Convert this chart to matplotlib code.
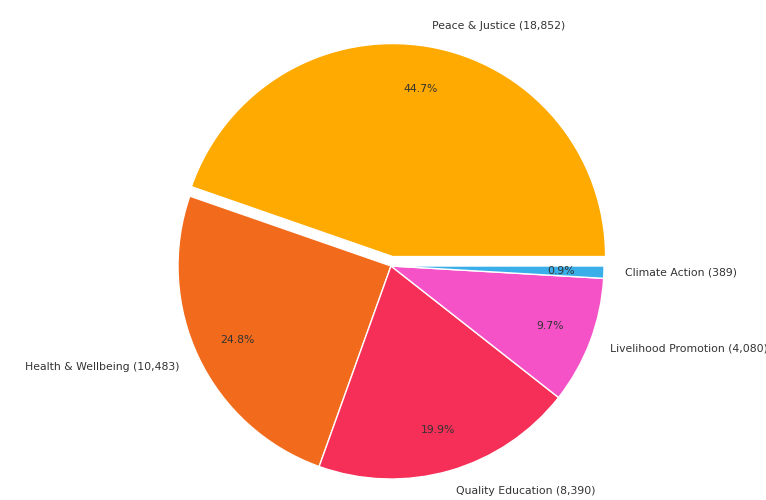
import matplotlib.pyplot as plt

# 数据
labels = ["Peace & Justice (18,852)", "Health & Wellbeing (10,483)",
          "Quality Education (8,390)", "Livelihood Promotion (4,080)",
          "Climate Action (389)"]
values = [18852, 10483, 8390, 4080, 389]
colors = ["#FFAA00", "#F26B1D", "#F52F57", "#F552C8", "#3AAEE8"]
explode = [0.045, 0, 0, 0, 0]

fig = plt.figure(figsize=(7.66, 5), dpi=100)
ax = fig.add_axes([0, 0, 1, 1])

ax.pie(values, labels=labels, colors=colors, explode=explode,
       autopct="%1.1f%%", pctdistance=0.8, labeldistance=1.1,
       wedgeprops={"edgecolor": "white", "linewidth": 1},
       textprops={"fontsize": 7.8, "color": "#333333"})

# 半径约 213 像素，圆心约 (391, 266)
r = 213
cx, cy = 391, 266
ax.set_xlim(-cx / r, (766 - cx) / r)
ax.set_ylim(-(500 - cy) / r, cy / r)
ax.set_aspect("auto")

fig.savefig("out.png", dpi=100)
